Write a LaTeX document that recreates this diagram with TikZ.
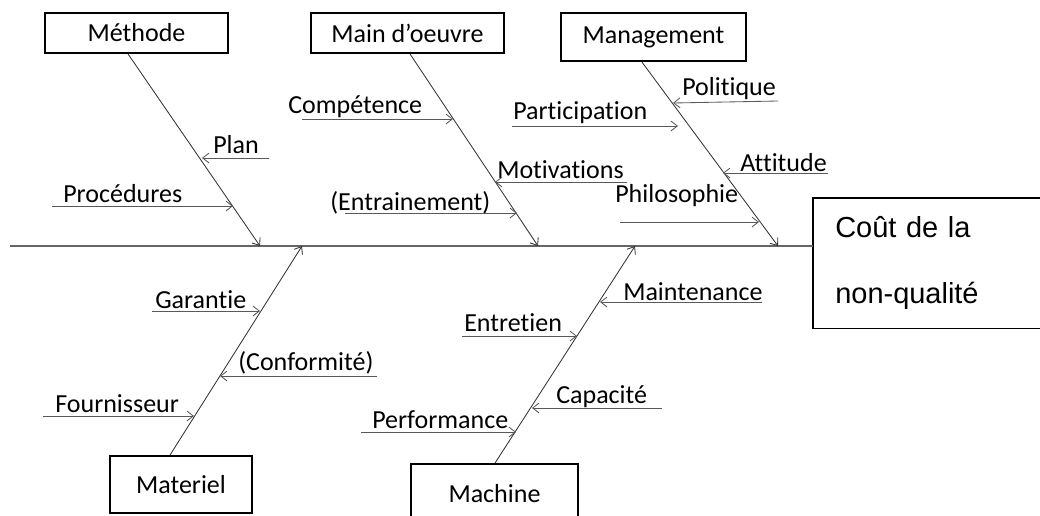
\documentclass[tikz,border=0pt]{standalone}
\usepackage{fontspec}
\setmainfont{Carlito}[Ligatures=NoCommon]
\newfontfamily\coutfont{Liberation Sans}
\usepackage{tikz}
\usetikzlibrary{arrows.meta,positioning,calc}

\begin{document}
\begin{tikzpicture}[
    x=0.025cm, y=-0.025cm,
    font=\fontsize{18.5}{22}\selectfont,
    causebox/.style={rectangle, draw, line width=1.3pt, inner sep=0pt},
    coutbox/.style={rectangle, anchor=north west, inner xsep=0.55cm,
        inner ysep=0pt, text width=5cm, align=left, minimum height=3.25cm,
        font=\coutfont\fontsize{20.6}{46.9}\selectfont},
    label/.style={anchor=west, inner sep=0pt},
    spine/.style={draw=black!60, line width=0.8pt},
    bone/.style={draw=black!80, line width=0.6pt, -{Straight Barb[length=4.5pt,width=7pt]}},
    twig/.style={draw=black!65, line width=0.6pt, -{Straight Barb[length=4.5pt,width=7pt]}}
]
\useasboundingbox (0,0) rectangle (1040,515);
\clip (0,0) rectangle (1040,515);

% Head and spine (box runs off the right edge)
\node[coutbox] (cout) at (813,198) {Coût de la\\non-qualité};
\draw[line width=1pt] (cout.north east) -- (cout.north west) -- (cout.south west) -- (cout.south east);
\coordinate (tail) at (10,246);
\draw[spine] (tail) -- (tail -| cout.west);

% Top causes
\node[causebox, minimum width=4.575cm, minimum height=1cm] (methode) at (136.5,33) {Méthode};
\node[causebox, minimum width=4.825cm, minimum height=1cm] (oeuvre) at (407.5,33) {Main d’oeuvre};
\node[causebox, minimum width=4.625cm, minimum height=1.2cm, line width=1.6pt] (management) at (653.5,37) {Management};

% Bottom causes
\node[causebox, minimum width=3.55cm, minimum height=1.425cm] (materiel) at (181,484.5) {Materiel};
\node[causebox, minimum width=4.175cm, minimum height=1.5cm] (machine) at (494.5,494) {Machine};

% Bones
\coordinate (s1) at (260,246);
\coordinate (s2) at (538,246);
\coordinate (s3) at (778,246);
\coordinate (s4) at (302,246);
\coordinate (s5) at (635,246);
\draw[bone] (128,0 |- methode.south) -- (s1);
\draw[bone] (410,0 |- oeuvre.south) -- (s2);
\draw[bone] (642,0 |- management.south) -- (s3);
\draw[bone] (170,0 |- materiel.north) -- (s4);
\draw[bone] (495,0 |- machine.north) -- (s5);

% Méthode
\node[label] (plan) at (213,145) {Plan};
\coordinate (plan1) at (269,158);
\draw[twig] (plan1) -- (202,158);
\node[label] (procedures) at (63,194) {Procédures};
\coordinate (procedures1) at (52,206);
\draw[twig] (procedures1) -- (233,206);

% Main d'oeuvre
\node[label] (competence) at (288,107) {Compétence};
\coordinate (competence1) at (302,119);
\draw[twig] (competence1) -- (453,119);
\node[label] (motivations) at (497,170) {Motivations};
\coordinate (motivations1) at (627,182);
\draw[twig] (motivations1) -- (495,182);
\node[label] (entrainement) at (330,203) {(Entrainement)};
\coordinate (entrainement1) at (345,213);
\draw[twig] (entrainement1) -- (517,213);

% Management
\node[label] (politique) at (682,89) {Politique};
\coordinate (politique1) at (778,101);
\draw[twig] (politique1) -- (673,103);
\node[label] (participation) at (513,113) {Participation};
\coordinate (participation1) at (512,126);
\draw[twig] (participation1) -- (678,126);
\node[label] (attitude) at (740,163) {Attitude};
\coordinate (attitude1) at (828,173);
\draw[twig] (attitude1) -- (723,173);
\node[label] (philosophie) at (615,196) {Philosophie};
\coordinate (philosophie1) at (620,222);
\draw[twig] (philosophie1) -- (759,222);

% Materiel
\node[label] (garantie) at (155,300) {Garantie};
\coordinate (garantie1) at (152,311);
\draw[twig] (garantie1) -- (260,311);
\node[label] (conformite) at (238,363) {(Conformité)};
\coordinate (conformite1) at (377,376);
\draw[twig] (conformite1) -- (220,376);
\node[label] (fournisseur) at (55,404) {Fournisseur};
\coordinate (fournisseur1) at (43,416);
\draw[twig] (fournisseur1) -- (194,416);

% Machine
\node[label] (maintenance) at (623,292) {Maintenance};
\coordinate (maintenance1) at (762,302);
\draw[twig] (maintenance1) -- (600,302);
\node[label] (entretien) at (464,323) {Entretien};
\coordinate (entretien1) at (462,336);
\draw[twig] (entretien1) -- (577,336);
\node[label] (capacite) at (556,397) {Capacité};
\coordinate (capacite1) at (662,408);
\draw[twig] (capacite1) -- (532,408);
\node[label] (performance) at (372,420) {Performance};
\coordinate (performance1) at (361,432);
\draw[twig] (performance1) -- (516,432);

\end{tikzpicture}
\end{document}
